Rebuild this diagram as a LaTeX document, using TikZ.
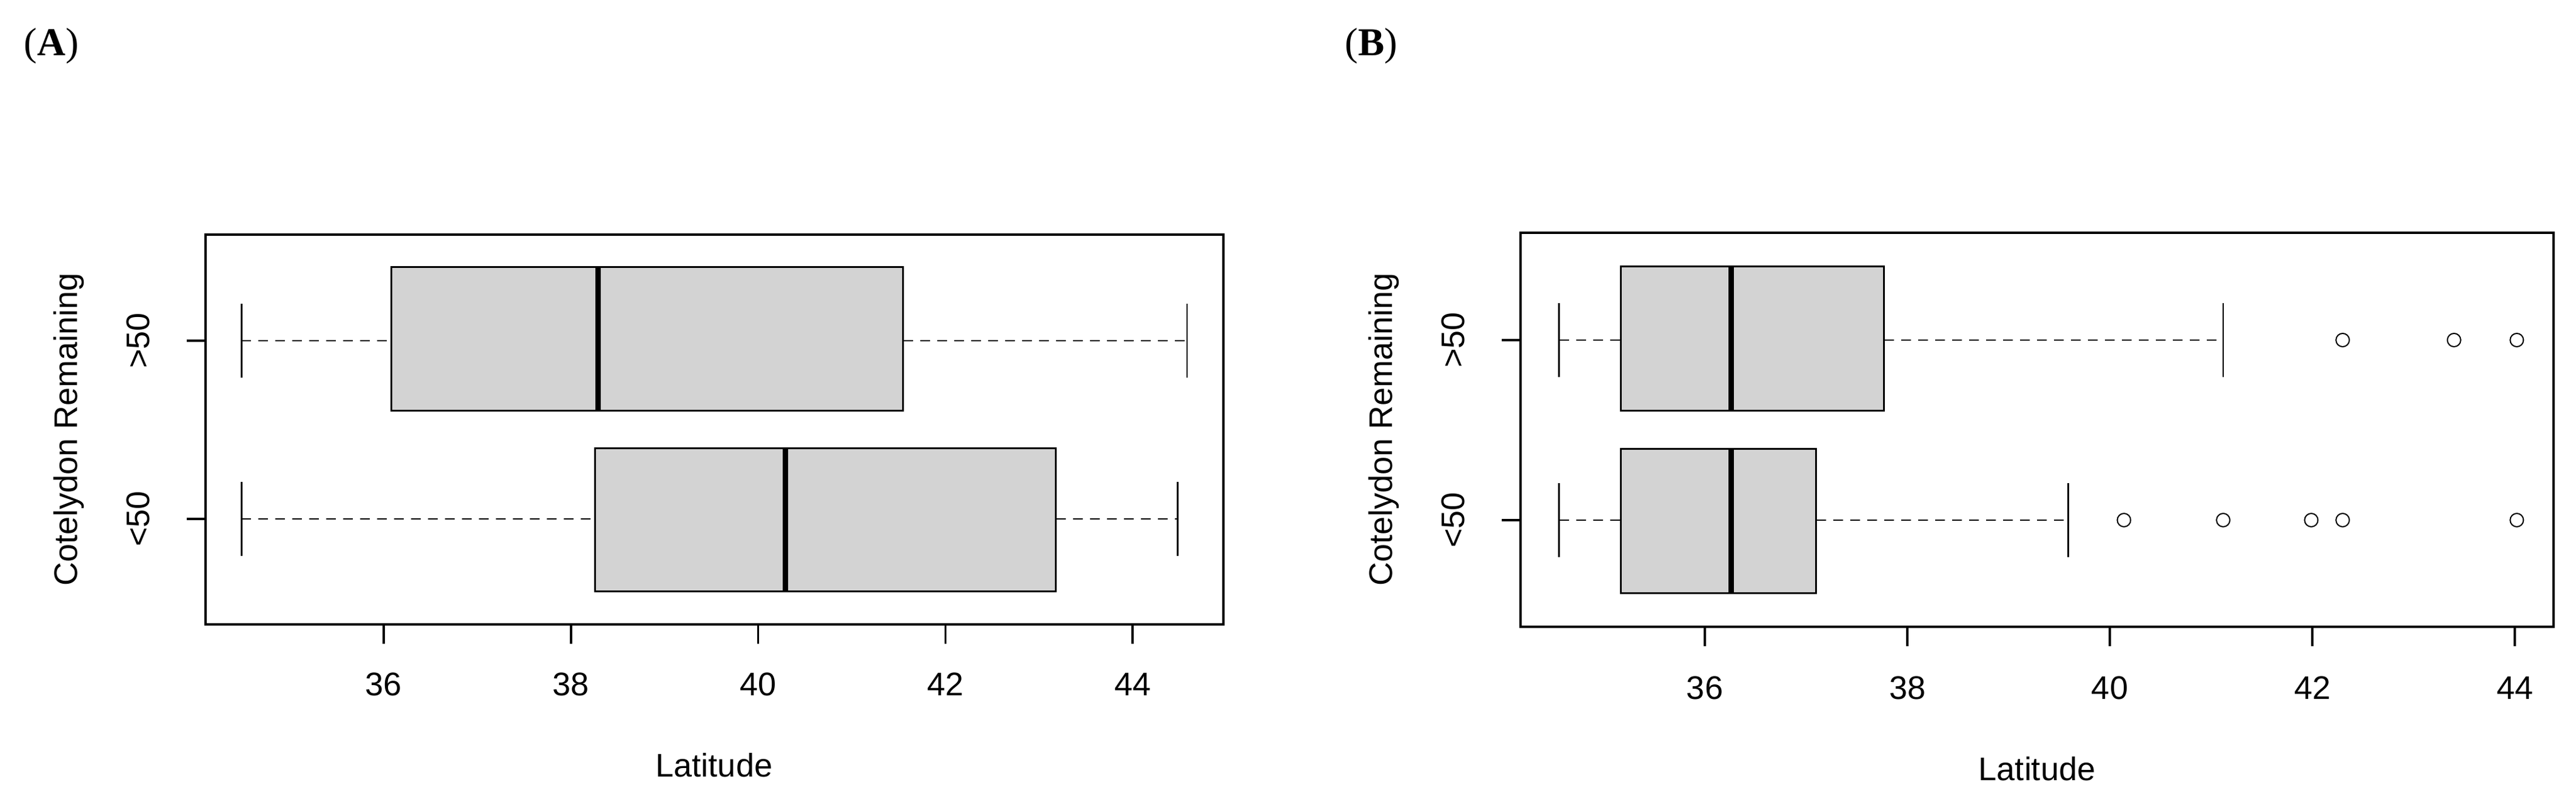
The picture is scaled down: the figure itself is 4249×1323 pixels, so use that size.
\documentclass[tikz,border=0pt]{standalone}
\usepackage{fontspec}
\setmainfont{Liberation Sans}
\newfontfamily\serifb{Liberation Serif}
\begin{document}
\begin{tikzpicture}[x=0.1pt,y=-0.1pt,
  frame/.style={line width=0.35pt},
  bx/.style={draw=black,fill={rgb,255:red,211;green,211;blue,211},line width=0.3pt},
  med/.style={line width=0.9pt},
  wh/.style={line width=0.25pt,dash pattern=on 1.6pt off 1.2pt},
  wcap/.style={line width=0.25pt},
  lab/.style={font=\fontsize{5.4}{6}\selectfont},
  pan/.style={font=\serifb\fontsize{6.5}{7}\selectfont},
  outl/.style={line width=0.2pt}]
\useasboundingbox (0,0) rectangle (4249,1323);
\node[pan] (pA) at (85,76) {(\textbf{A})};
\node[pan] (pB) at (2262,76) {(\textbf{B})};
% Panel A
\begin{scope}
\def\X#1{{633+(#1-36)*154.4}}
\draw[frame] (339,387) rectangle (2018,1030);
\foreach \v in {36,38,40,42,44}{\draw[frame] (\X{\v},1030) -- (\X{\v},1062); \node[lab] at (\X{\v},1129) {\v};}
\draw[frame] (308,562) -- (339,562); \draw[frame] (308,856) -- (339,856);
\node[lab,rotate=90] (a1) at (228,562) {>50};
\node[lab,rotate=90] (a2) at (228,856) {<50};
\node[lab,rotate=90] (ay) at (114,708) {Cotelydon Remaining};
\node[lab] (ax) at (1178,1262) {Latitude};
\draw[wh] (\X{34.48},562) -- (\X{36.08},562); \draw[wh] (\X{41.55},562) -- (\X{44.58},562);
\draw[wcap] (\X{34.48},501) -- (\X{34.48},623); \draw[wcap] (\X{44.58},501) -- (\X{44.58},623);
\draw[bx] (\X{36.08},441) rectangle (\X{41.55},678);
\draw[med] (\X{38.29},441) -- (\X{38.29},678);
\draw[wh] (\X{34.48},856) -- (\X{38.26},856); \draw[wh] (\X{43.18},856) -- (\X{44.48},856);
\draw[wcap] (\X{34.48},795) -- (\X{34.48},917); \draw[wcap] (\X{44.48},795) -- (\X{44.48},917);
\draw[bx] (\X{38.26},740) rectangle (\X{43.18},976);
\draw[med] (\X{40.29},740) -- (\X{40.29},976);
\end{scope}
% Panel B
\begin{scope}
\def\X#1{{2812+(#1-36)*167}}
\draw[frame] (2508,384) rectangle (4212,1034);
\foreach \v in {36,38,40,42,44}{\draw[frame] (\X{\v},1034) -- (\X{\v},1066); \node[lab] at (\X{\v},1135) {\v};}
\draw[frame] (2477,561) -- (2508,561); \draw[frame] (2477,858) -- (2508,858);
\node[lab,rotate=90] (b1) at (2397,561) {>50};
\node[lab,rotate=90] (b2) at (2397,858) {<50};
\node[lab,rotate=90] (by) at (2283,708) {Cotelydon Remaining};
\node[lab] (bx) at (3360,1268) {Latitude};
\draw[wh] (\X{34.56},561) -- (\X{35.17},561); \draw[wh] (\X{37.77},561) -- (\X{41.12},561);
\draw[wcap] (\X{34.56},500) -- (\X{34.56},622); \draw[wcap] (\X{41.12},500) -- (\X{41.12},622);
\draw[bx] (\X{35.17},440) rectangle (\X{37.77},678);
\draw[med] (\X{36.26},440) -- (\X{36.26},678);
\foreach \v in {42.30,43.40,44.02}{\draw[outl] (\X{\v},561) circle (1.1pt);}
\draw[wh] (\X{34.56},858) -- (\X{35.17},858); \draw[wh] (\X{37.10},858) -- (\X{39.59},858);
\draw[wcap] (\X{34.56},797) -- (\X{34.56},919); \draw[wcap] (\X{39.59},797) -- (\X{39.59},919);
\draw[bx] (\X{35.17},741) rectangle (\X{37.10},979);
\draw[med] (\X{36.26},741) -- (\X{36.26},979);
\foreach \v in {40.14,41.12,41.99,42.30,44.02}{\draw[outl] (\X{\v},858) circle (1.1pt);}
\end{scope}
\end{tikzpicture}
\end{document}
